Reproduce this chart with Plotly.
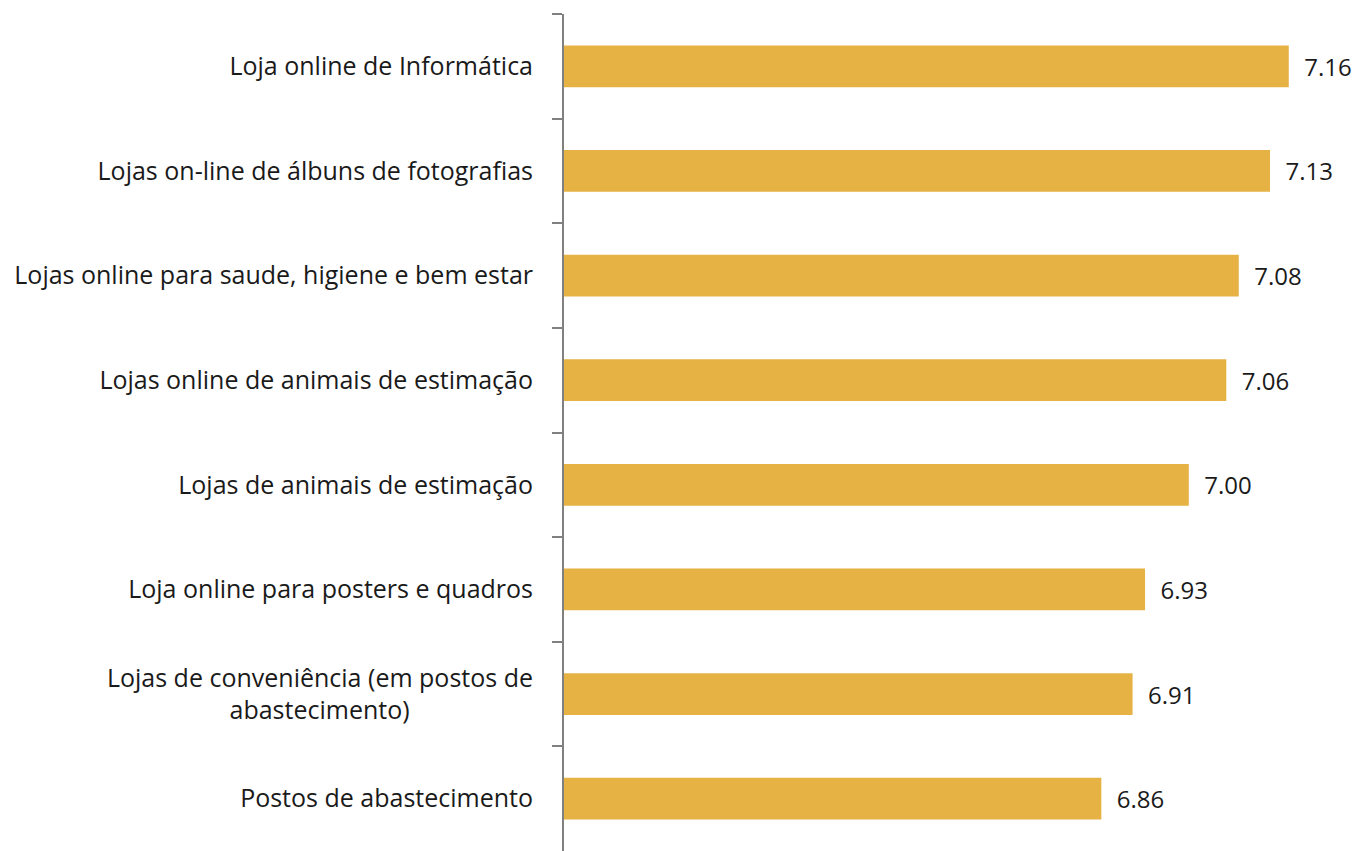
import plotly.graph_objects as go

# dados
categorias = [
    "Loja online de Informática",
    "Lojas on-line de álbuns de fotografias",
    "Lojas online para saude, higiene e bem estar",
    "Lojas online de animais de estimação",
    "Lojas de animais de estimação",
    "Loja online para posters e quadros",
    "Lojas de conveniência (em postos de<br>abastecimento)" + "\u00a0" * 19,
    "Postos de abastecimento",
]
valores = [7.16, 7.13, 7.08, 7.06, 7.00, 6.93, 6.91, 6.86]
rotulos = ["\u00a0\u00a0" + f"{v:.2f}" for v in valores]

fonte = "Open Sans"

fig = go.Figure()
fig.add_trace(go.Bar(
    x=valores,
    y=categorias,
    orientation="h",
    marker=dict(color="#E5B243", line=dict(width=0)),
    text=rotulos,
    textposition="outside",
    textfont=dict(family=fonte, size=24, color="#1a1a1a"),
    cliponaxis=False,
    hoverinfo="x+y",
))

# a página tem 8px de margem no body
fig.update_layout(
    width=1352,
    height=843,
    margin=dict(l=556, r=15, t=6, b=0),
    plot_bgcolor="white",
    paper_bgcolor="white",
    bargap=0.6,
    showlegend=False,
    font=dict(family=fonte, size=25, color="#1a1a1a"),
    xaxis=dict(range=[6, 7.25], showgrid=False, zeroline=False,
               showticklabels=False, showline=False, ticks=""),
    yaxis=dict(autorange="reversed", showgrid=False, zeroline=False,
               showline=True, linecolor="#808080", linewidth=2,
               ticks="outside", tickson="boundaries", ticklen=10,
               tickcolor="#808080", tickwidth=2,
               ticklabelstandoff=24, automargin=False,
               tickfont=dict(family=fonte, size=25, color="#1a1a1a")),
)

fig.write_html("out.html")
